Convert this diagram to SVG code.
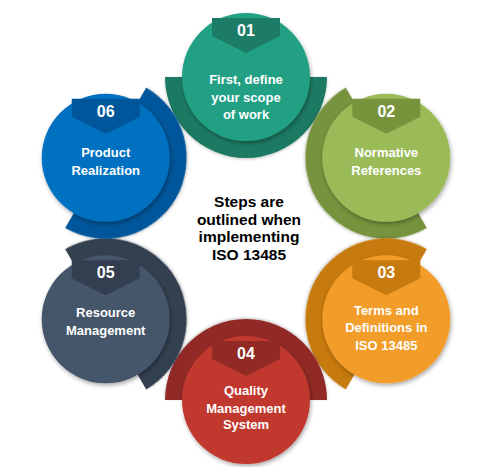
<svg xmlns="http://www.w3.org/2000/svg" width="489" height="467" viewBox="0 0 489 467">
<defs>
<filter id="sh" x="-30%" y="-30%" width="160%" height="160%">
<feDropShadow dx="1" dy="2" stdDeviation="2.2" flood-color="#000" flood-opacity="0.35"/>
</filter>
<filter id="shb" x="-30%" y="-30%" width="160%" height="160%">
<feDropShadow dx="0" dy="1" stdDeviation="1.5" flood-color="#000" flood-opacity="0.25"/>
</filter>
<path id="band" d="M-81,0 A81,81 0 0 0 81,0 Z"/>
<path id="tab" d="M-34,-59 H34 V-41 L0,-24 L-34,-41 Z"/>
</defs>
<style>
.lbl{font-family:"Liberation Sans",Arial,sans-serif;font-weight:bold;font-size:13px;fill:#fff;text-anchor:middle}
.num{font-family:"Liberation Sans",Arial,sans-serif;font-weight:bold;font-size:16px;fill:#fff;text-anchor:middle}
.ctr{font-family:"Liberation Sans",Arial,sans-serif;font-weight:bold;font-size:15.5px;fill:#000;text-anchor:middle}
.circ{filter:url(#sh)}
.bd{filter:url(#shb)}
</style>
<rect width="489" height="467" fill="#fff"/>
<g id="connectors"></g>

<g id="node01" transform="translate(246,77)">
<use href="#band" class="bd" fill="#1A7A62"/>
<circle r="64" class="circ" fill="#21A084"/>
<use href="#tab" fill="#1C7C66"/>
<text class="num" y="-41">01</text>
<text class="lbl" y="7">First, define</text>
<text class="lbl" y="24.5">your scope</text>
<text class="lbl" y="42">of work</text>
</g>

<g id="node02" transform="translate(386.3,157.8)">
<use href="#band" class="bd" fill="#77933C" transform="rotate(60)"/>
<circle r="64" class="circ" fill="#9BBB59"/>
<use href="#tab" fill="#77933C"/>
<text class="num" y="-41">02</text>
<text class="lbl" y="-1">Normative</text>
<text class="lbl" y="17">References</text>
</g>

<g id="node03" transform="translate(386.3,319.3)">
<use href="#band" class="bd" fill="#C77A0E" transform="rotate(120)"/>
<circle r="64" class="circ" fill="#F29C2B"/>
<use href="#tab" fill="#C77A0E"/>
<text class="num" y="-41">03</text>
<text class="lbl" y="-4">Terms and</text>
<text class="lbl" y="13">Definitions in</text>
<text class="lbl" y="30.5">ISO 13485</text>
</g>

<g id="node04" transform="translate(246,400)">
<use href="#band" class="bd" fill="#912A25" transform="rotate(180)"/>
<circle r="64" class="circ" fill="#C0392F"/>
<use href="#tab" fill="#912A25"/>
<text class="num" y="-41">04</text>
<text class="lbl" y="-5">Quality</text>
<text class="lbl" y="12.5">Management</text>
<text class="lbl" y="29">System</text>
</g>

<g id="node05" transform="translate(105.7,319.3)">
<use href="#band" class="bd" fill="#333F50" transform="rotate(240)"/>
<circle r="64" class="circ" fill="#44546A"/>
<use href="#tab" fill="#333F50"/>
<text class="num" y="-41">05</text>
<text class="lbl" y="-2.5">Resource</text>
<text class="lbl" y="15.5">Management</text>
</g>

<g id="node06" transform="translate(105.7,157.8)">
<use href="#band" class="bd" fill="#00569A" transform="rotate(300)"/>
<circle r="64" class="circ" fill="#0070C0"/>
<use href="#tab" fill="#00569A"/>
<text class="num" y="-41">06</text>
<text class="lbl" y="-1">Product</text>
<text class="lbl" y="17">Realization</text>
</g>

<g id="center">
<text class="ctr" x="249" y="207">Steps are</text>
<text class="ctr" x="249" y="224.5">outlined when</text>
<text class="ctr" x="249" y="242">implementing</text>
<text class="ctr" x="249" y="259.5">ISO 13485</text>
</g>
</svg>
